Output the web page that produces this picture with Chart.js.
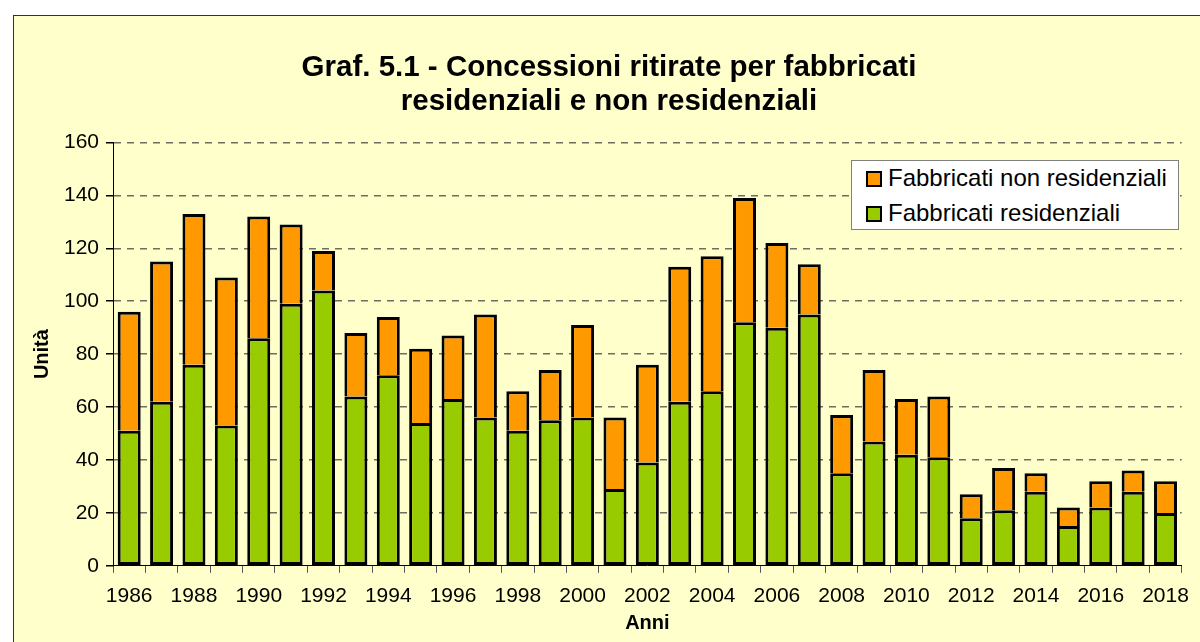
<!DOCTYPE html>
<html>
<head>
<meta charset="utf-8">
<script src="https://cdn.jsdelivr.net/npm/chart.js@4"></script>
<style>
  body { margin: 0; background: #fff; }
  #frame {
    position: absolute; left: 13px; top: 15px; width: 1200px; height: 640px;
    background: #FFFFCC; border: 1px solid #333;
  }
  #wrap { position: absolute; left: 0; top: 0; width: 1200px; height: 642px; }
  #legend {
    position: absolute; left: 851px; top: 160px; width: 326px; height: 68px;
    background: #fff; border: 1px solid #808080;
    font-family: "Liberation Sans", Arial, sans-serif; font-size: 24px; color: #000;
  }
  .item { position: absolute; left: 14px; height: 28px; line-height: 28px; white-space: nowrap; }
  .sw { display: inline-block; width: 12px; height: 12px; border: 2px solid #000; margin-right: 6px; vertical-align: -1px; }
</style>
</head>
<body>
<div id="frame"></div>
<div id="wrap"><canvas id="concChart" width="1200" height="642"></canvas></div>
<div id="legend">
  <div class="item" style="top:3px"><span class="sw" style="background:#FF9900"></span>Fabbricati non residenziali</div>
  <div class="item" style="top:38px"><span class="sw" style="background:#99CC00"></span>Fabbricati residenziali</div>
</div>
<script>
const anni = ['1986','1987','1988','1989','1990','1991','1992','1993','1994','1995','1996',
  '1997','1998','1999','2000','2001','2002','2003','2004','2005','2006','2007','2008',
  '2009','2010','2011','2012','2013','2014','2015','2016','2017','2018'];
const residenziali = [51, 62, 76, 53, 86, 99, 104, 64, 72, 54, 63, 56, 51, 55, 56, 29, 39,
  62, 66, 92, 90, 95, 35, 47, 42, 41, 18, 21, 28, 15, 22, 28, 20];
const nonResidenziali = [45, 53, 57, 56, 46, 30, 15, 24, 22, 28, 24, 39, 15, 19, 35, 27, 37,
  51, 51, 47, 32, 19, 22, 27, 21, 23, 9, 16, 7, 7, 10, 8, 12];

const font = 'Liberation Sans';
const ctx = document.getElementById('concChart').getContext('2d');

const chart = new Chart(ctx, {
  type: 'bar',
  data: {
    labels: anni,
    datasets: [{
      label: 'Fabbricati residenziali',
      data: residenziali,
      backgroundColor: '#99CC00',
      borderColor: '#000',
      borderWidth: 3,
      borderSkipped: false
    }, {
      label: 'Fabbricati non residenziali',
      data: nonResidenziali,
      backgroundColor: '#FF9900',
      borderColor: '#000',
      borderWidth: 3,
      borderSkipped: 'start'
    }]
  },
  options: {
    responsive: false,
    animation: false,
    datasets: { bar: { categoryPercentage: 1, barPercentage: 0.71 } },
    layout: { padding: { left: 26, right: 8, top: 0, bottom: 7 } },
    plugins: {
      legend: { display: false },
      tooltip: { enabled: false },
      title: {
        display: true,
        text: ['Graf. 5.1 - Concessioni ritirate per fabbricati', 'residenziali e non residenziali'],
        color: '#000',
        font: { family: font, size: 29.5, weight: 'bold', lineHeight: 1.16 },
        padding: { top: 51, bottom: 23 }
      }
    },
    scales: {
      x: {
        stacked: true,
        offset: true,
        grid: { offset: true, drawOnChartArea: false, color: '#555', tickLength: 7 },
        border: { color: '#000', width: 1 },
        ticks: {
          autoSkip: false, maxRotation: 0, color: '#000', padding: 11,
          font: { family: font, size: 21 },
          callback: function (v, i) { return i % 2 === 0 ? anni[i] : ''; }
        },
        title: { display: true, text: 'Anni', color: '#000', padding: { top: -9, bottom: 0 },
          font: { family: font, size: 20, weight: 'bold' } }
      },
      y: {
        stacked: true,
        min: 0, max: 160,
        afterFit: function (s) { s.width = 87; },
        grid: {
          color: function (c) { return c.tick.value % 20 === 0 && c.tick.value > 0 ? '#6e6e60' : 'rgba(0,0,0,0)'; },
          lineWidth: 1.5,
          tickColor: '#000', tickLength: 7
        },
        border: { color: '#000', width: 1, dash: [7, 6] },
        ticks: {
          stepSize: 10, color: '#000', padding: 7,
          font: { family: font, size: 21 },
          callback: function (v) { return v % 20 === 0 ? v : ''; }
        },
        title: { display: true, text: 'Unità', color: '#000', padding: { top: 4, bottom: 2 },
          font: { family: font, size: 20, weight: 'bold' } }
      }
    }
  }
});
</script>
</body>
</html>
